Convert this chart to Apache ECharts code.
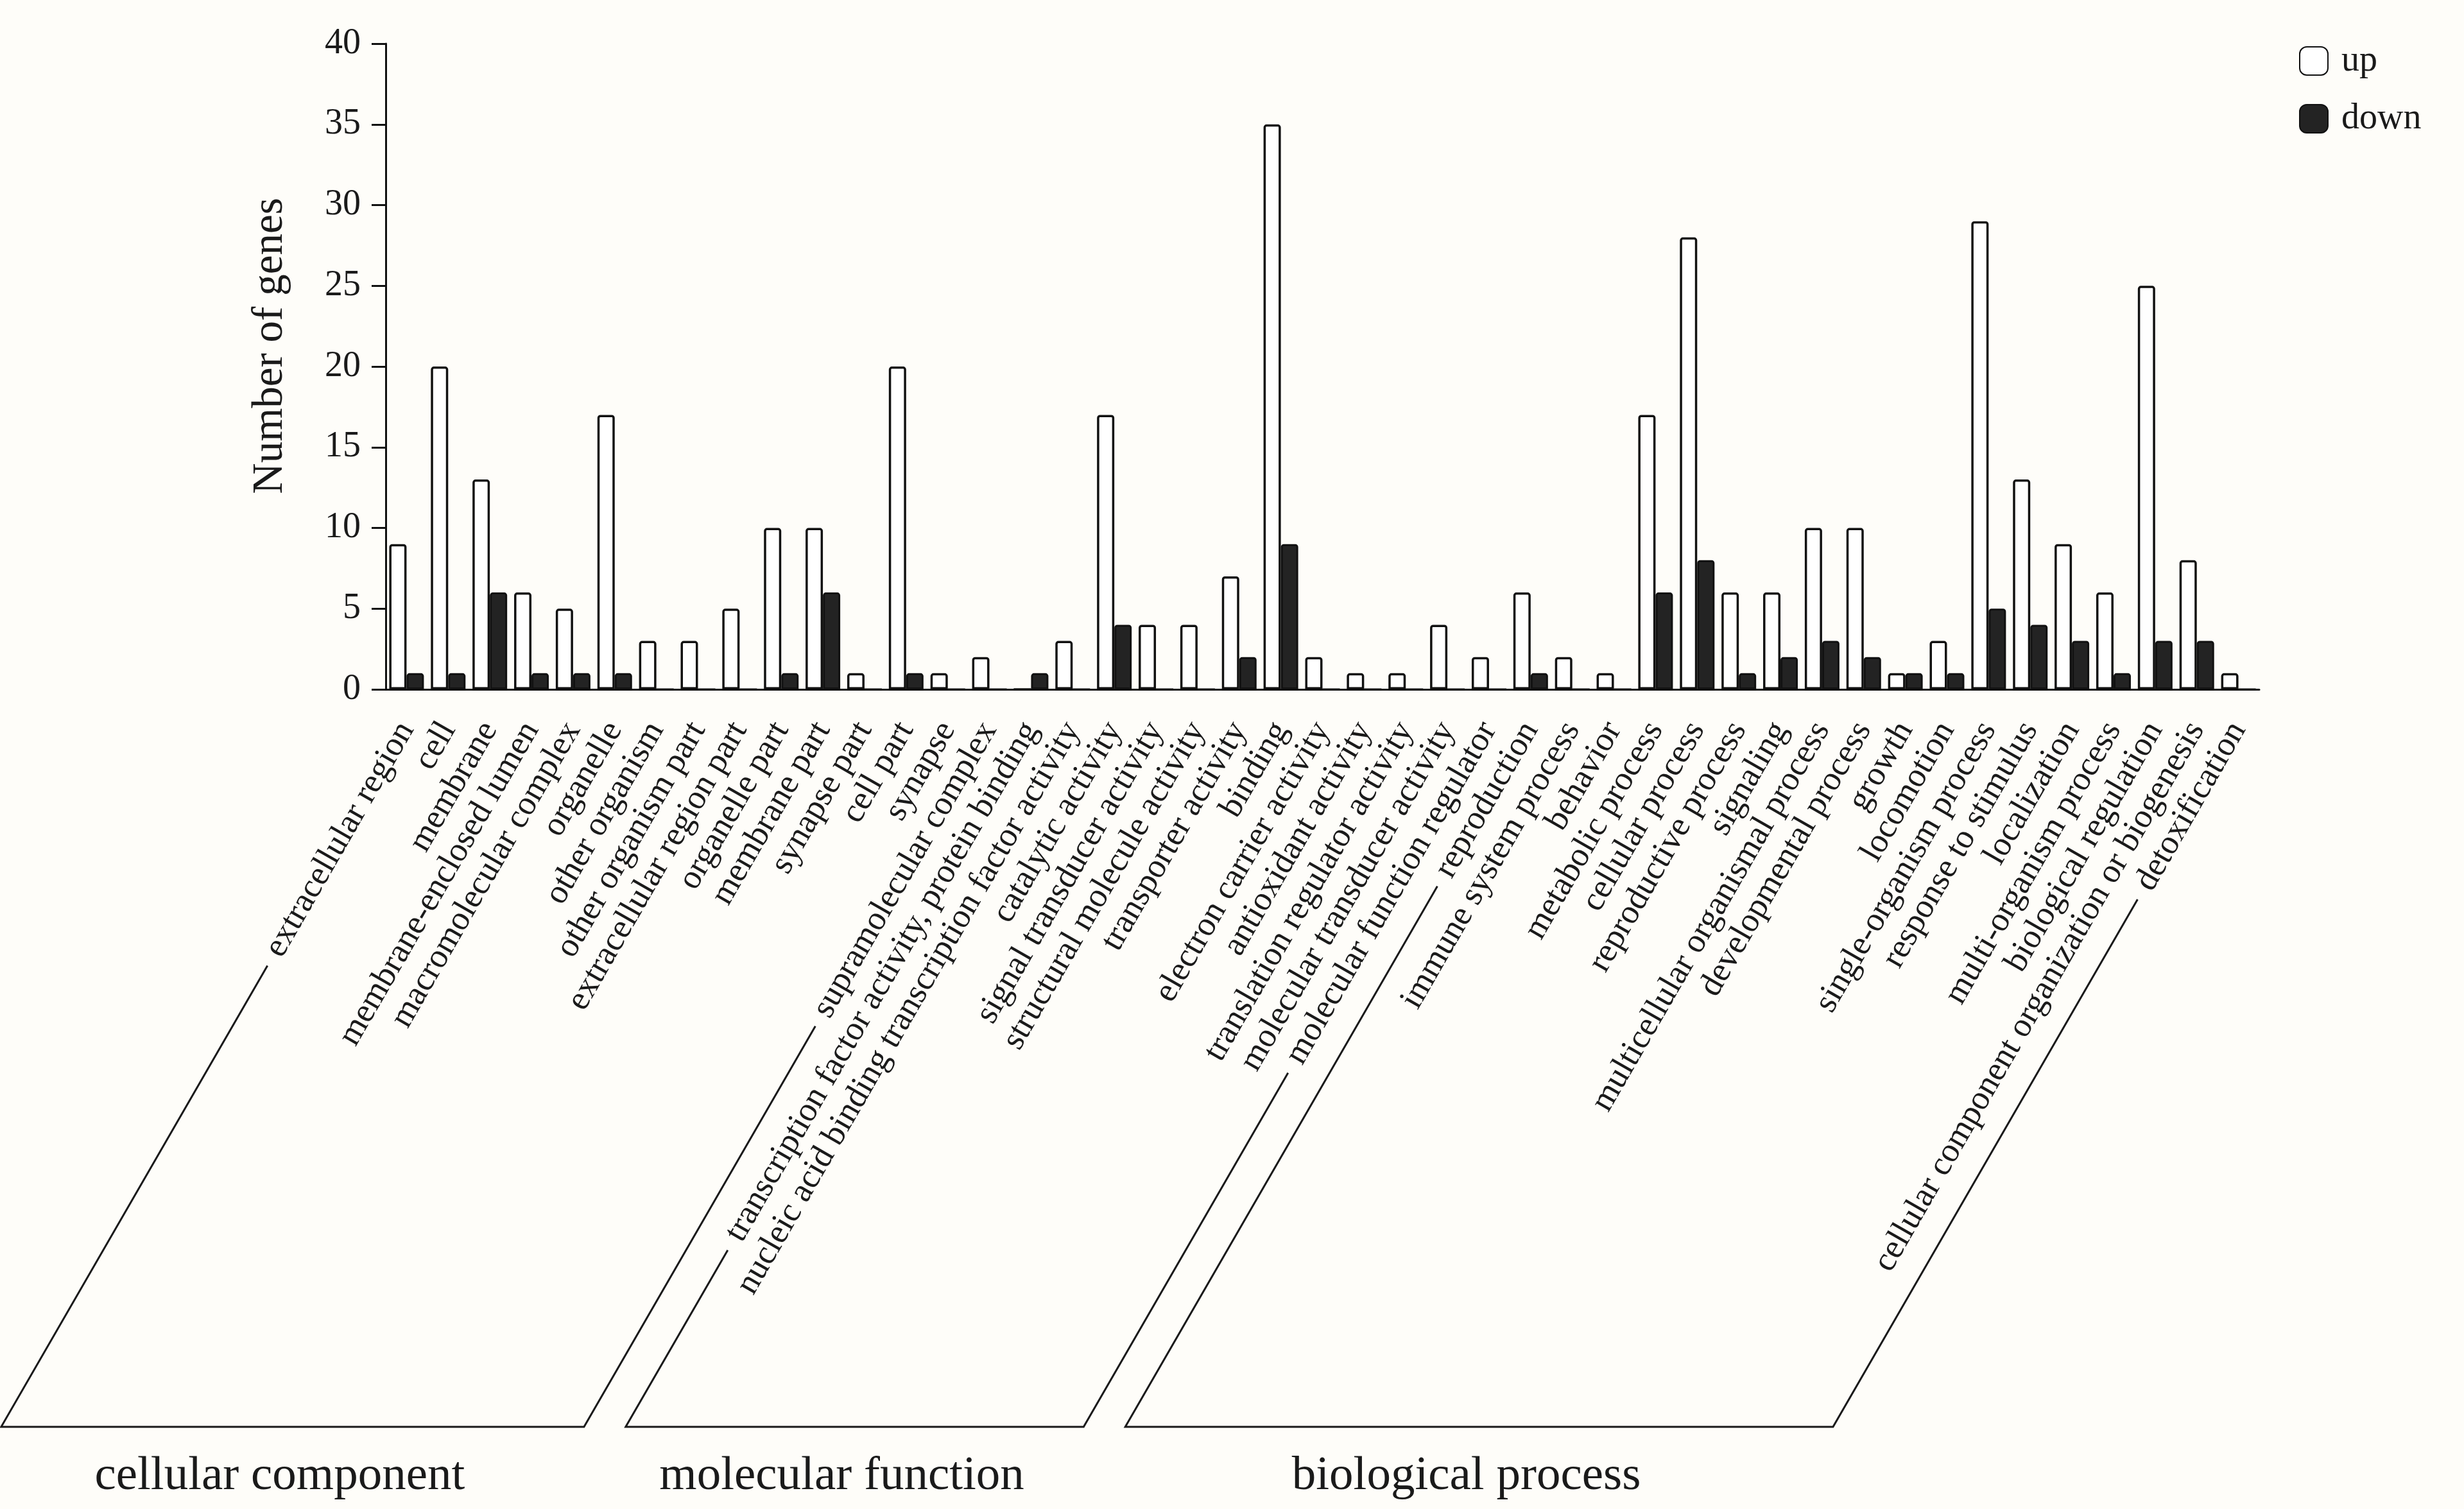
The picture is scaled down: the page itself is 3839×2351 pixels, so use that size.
<!DOCTYPE html>
<html>
<head>
<meta charset="utf-8">
<script src="https://cdn.jsdelivr.net/npm/echarts@6/dist/echarts.min.js"></script>
<style>
html,body{margin:0;padding:0;background:#fefdf9;}
#main{width:3839px;height:2351px;}
</style>
</head>
<body>
<div id="main"></div>
<script>
const categories = [
  'extracellular region','cell','membrane','membrane-enclosed lumen','macromolecular complex',
  'organelle','other organism','other organism part','extracellular region part','organelle part',
  'membrane part','synapse part','cell part','synapse','supramolecular complex',
  'transcription factor activity, protein binding','nucleic acid binding transcription factor activity',
  'catalytic activity','signal transducer activity','structural molecule activity','transporter activity',
  'binding','electron carrier activity','antioxidant activity','translation regulator activity',
  'molecular transducer activity','molecular function regulator',
  'reproduction','immune system process','behavior','metabolic process','cellular process',
  'reproductive process','signaling','multicellular organismal process','developmental process',
  'growth','locomotion','single-organism process','response to stimulus','localization',
  'multi-organism process','biological regulation','cellular component organization or biogenesis',
  'detoxification'
];
const upValues = [9,20,13,6,5,17,3,3,5,10,10,1,20,1,2,
  0,3,17,4,4,7,35,2,1,1,4,2,
  6,2,1,17,28,6,6,10,10,1,3,29,13,9,6,25,8,1];
const downValues = [1,1,6,1,1,1,0,0,0,1,6,0,1,0,0,
  1,0,4,0,0,2,9,0,0,0,0,0,
  1,0,0,6,8,1,2,3,2,1,1,5,4,3,1,3,3,0];
const seriesNames = ['up','down'];
const yMin = 0, yMax = 40, yInterval = 5;
const yAxisTitle = 'Number of genes';
const groupNames = ['cellular component','molecular function','biological process'];
const groupSizes = [15,12,18];

const FONT = '"Liberation Serif","Times New Roman",serif';
const TXT = '#1a1a1a';
const LABEL_SIZE = 53;
const LABEL_MARGIN = 55;
const ROT = 60;

const chart = echarts.init(document.getElementById('main'), null, {renderer:'canvas'});
chart.setOption({
  backgroundColor:'#fefdf9',
  animation:false,
  grid:{left:601, right:319, top:68, bottom:1277, containLabel:false},
  legend:{
    orient:'vertical', left:3577, top:62,
    itemWidth:44, itemHeight:44, itemGap:34,
    icon:'roundRect',
    textStyle:{fontFamily:FONT, fontSize:56, color:TXT, padding:[0,0,0,16]},
    data:seriesNames
  },
  xAxis:{
    type:'category', data:categories,
    axisLine:{lineStyle:{color:'#111', width:3}},
    axisTick:{alignWithLabel:true, length:12, lineStyle:{color:'#111', width:3}},
    axisLabel:{interval:0, rotate:ROT, margin:LABEL_MARGIN, fontFamily:FONT, fontSize:LABEL_SIZE, color:TXT}
  },
  yAxis:{
    type:'value', min:yMin, max:yMax, interval:yInterval,
    name:yAxisTitle, nameLocation:'middle', nameGap:146,
    nameTextStyle:{fontFamily:FONT, fontSize:67, color:TXT, padding:[0,0,0,64]},
    axisLine:{show:true, lineStyle:{color:'#111', width:3}},
    axisTick:{show:true, length:22, lineStyle:{color:'#111', width:3}},
    axisLabel:{margin:39, fontFamily:FONT, fontSize:56, color:TXT},
    splitLine:{show:false}
  },
  series:[
    {name:seriesNames[0], type:'bar', data:upValues, barWidth:27, barGap:'0%',
     itemStyle:{color:'#ffffff', borderColor:'#111', borderWidth:3.5, borderRadius:[3,3,0,0]}},
    {name:seriesNames[1], type:'bar', data:downValues, barWidth:27, barGap:'0%',
     itemStyle:{color:'#232323', borderColor:'#111', borderWidth:3, borderRadius:[3,3,0,0]}}
  ]
});

// bracket annotations computed from the axis positions
const canvas = document.createElement('canvas');
const ctx = canvas.getContext('2d');
ctx.font = LABEL_SIZE + 'px ' + FONT;
const y0 = chart.convertToPixel({yAxisIndex:0}, 0);
const th = ROT * Math.PI / 180;
const dx = -Math.cos(th), dy = Math.sin(th);
const bracketY = 2223;
const titleY = 2300;
const gap = 20;

function lineFor(idx){
  const ax = chart.convertToPixel({xAxisIndex:0}, categories[idx]);
  const ay = y0 + LABEL_MARGIN;
  const w = ctx.measureText(categories[idx]).width + gap;
  const t = (bracketY - ay) / dy;
  return {start:[ax + dx*w, ay + dy*w], end:[ax + dx*t, bracketY]};
}

const graphics = [];
let first = 0;
groupSizes.forEach((n, g) => {
  const a = lineFor(first), b = lineFor(first + n - 1);
  const pts = [a.start, a.end, b.end, b.start];
  graphics.push({type:'polyline', shape:{points:pts}, style:{stroke:'#1a1a1a', lineWidth:3, fill:null}, silent:true});
  graphics.push({type:'text', x:(a.end[0] + b.end[0]) / 2 - 20, y:titleY,
    style:{text:groupNames[g], font:'75px ' + FONT, fill:TXT, textAlign:'center', textVerticalAlign:'middle'}});
  first += n;
});
chart.setOption({graphic:graphics});
</script>
</body>
</html>
